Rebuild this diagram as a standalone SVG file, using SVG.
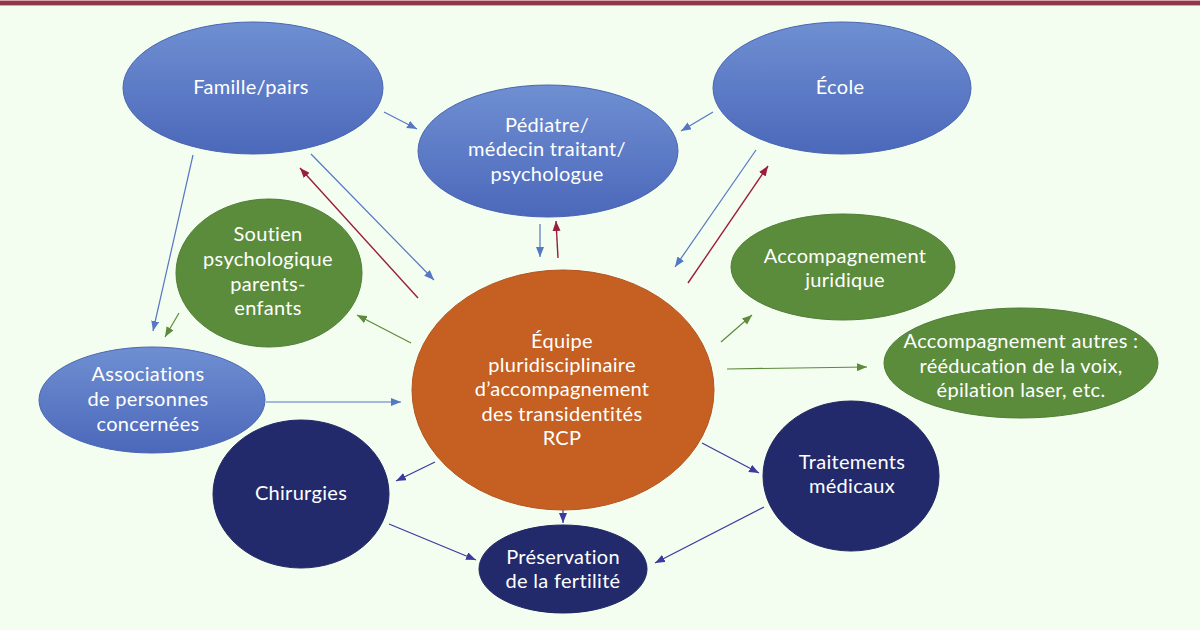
<svg xmlns="http://www.w3.org/2000/svg" width="1200" height="630" viewBox="0 0 1200 630">
<defs>
<linearGradient id="gBlue" x1="0" y1="0" x2="0" y2="1">
<stop offset="0" stop-color="#6f8fd2"/>
<stop offset="1" stop-color="#4b68ba"/>
</linearGradient>
<marker id="aBlue" viewBox="0 0 10 8" refX="10" refY="4" markerWidth="10" markerHeight="8" markerUnits="userSpaceOnUse" orient="auto"><path d="M0,0 L10,4 L0,8 Z" fill="#5577c4"/></marker>
<marker id="aRed" viewBox="0 0 10 8" refX="10" refY="4" markerWidth="10" markerHeight="8" markerUnits="userSpaceOnUse" orient="auto"><path d="M0,0 L10,4 L0,8 Z" fill="#9a1d3e"/></marker>
<marker id="aGreen" viewBox="0 0 10 8" refX="10" refY="4" markerWidth="10" markerHeight="8" markerUnits="userSpaceOnUse" orient="auto"><path d="M0,0 L10,4 L0,8 Z" fill="#5e8a3c"/></marker>
<marker id="aNavy" viewBox="0 0 10 8" refX="10" refY="4" markerWidth="10" markerHeight="8" markerUnits="userSpaceOnUse" orient="auto"><path d="M0,0 L10,4 L0,8 Z" fill="#3b3a9e"/></marker>
</defs>
<style>
.blue{fill:url(#gBlue);stroke:#4a66b3;stroke-width:1}
.green{fill:#5b8c3b;stroke:#4f7d35;stroke-width:1}
.orange{fill:#c55f22;stroke:#b35520;stroke-width:1}
.navy{fill:#222a6c;stroke:#1f2762;stroke-width:1}
text{font-family:Lato,"Open Sans",sans-serif;font-size:20px;fill:#ffffff;text-anchor:middle;letter-spacing:0.3px}
.cb{stroke:#5577c4;stroke-width:1.2;fill:none;marker-end:url(#aBlue)}
.cr{stroke:#9a1d3e;stroke-width:1.4;fill:none;marker-end:url(#aRed)}
.cg{stroke:#5e8a3c;stroke-width:1.2;fill:none;marker-end:url(#aGreen)}
.cn{stroke:#3b3a9e;stroke-width:1.2;fill:none;marker-end:url(#aNavy)}
</style>
<rect x="0" y="0" width="1200" height="630" fill="#f3fdf0"/>
<rect x="0" y="0" width="1200" height="6" fill="#d9a2ad"/>
<rect x="0" y="1" width="1200" height="4" fill="#8c3a4b"/>

<g id="connectors">
<line class="cb" x1="384" y1="112" x2="417" y2="129"/>
<line class="cb" x1="713" y1="112" x2="681" y2="131"/>
<line class="cb" x1="193" y1="155" x2="153" y2="331"/>
<line class="cb" x1="311" y1="154" x2="434" y2="280"/>
<line class="cr" x1="418" y1="298" x2="300" y2="168"/>
<line class="cb" x1="540" y1="224" x2="540" y2="257"/>
<line class="cr" x1="558" y1="258" x2="556" y2="221"/>
<line class="cb" x1="756" y1="150" x2="675" y2="267"/>
<line class="cr" x1="688" y1="283" x2="768" y2="166"/>
<line class="cg" x1="411" y1="343" x2="357" y2="315"/>
<line class="cg" x1="179" y1="313" x2="165" y2="337"/>
<line class="cb" x1="266" y1="402" x2="401" y2="402"/>
<line class="cg" x1="721" y1="342" x2="752" y2="315"/>
<line class="cg" x1="727" y1="369" x2="867" y2="367"/>
<line class="cn" x1="435" y1="462" x2="396" y2="481"/>
<line class="cn" x1="563" y1="509" x2="563" y2="523"/>
<line class="cn" x1="389" y1="524" x2="476" y2="560"/>
<line class="cn" x1="702" y1="443" x2="759" y2="473"/>
<line class="cn" x1="764" y1="507" x2="655" y2="563"/>
</g>

<g id="famille"><ellipse class="blue" cx="253" cy="88" rx="130" ry="66"/><text x="251" y="94">Famille/pairs</text></g>
<g id="ecole"><ellipse class="blue" cx="842" cy="88" rx="129" ry="66"/><text x="840" y="94">École</text></g>
<g id="pediatre"><ellipse class="blue" cx="548" cy="151" rx="130" ry="66"/>
<text x="547" y="132">Pédiatre/</text><text x="547" y="156">médecin traitant/</text><text x="547" y="181">psychologue</text></g>
<g id="soutien"><ellipse class="green" cx="269" cy="273" rx="93" ry="74"/>
<text x="268" y="241">Soutien</text><text x="268" y="266">psychologique</text><text x="268" y="291">parents-</text><text x="268" y="315">enfants</text></g>
<g id="associations"><ellipse class="blue" cx="152" cy="400" rx="113" ry="53"/>
<text x="148" y="381">Associations</text><text x="148" y="406">de personnes</text><text x="148" y="431">concernées</text></g>
<g id="equipe"><ellipse class="orange" cx="563" cy="390" rx="151" ry="120"/>
<text x="562" y="348">Équipe</text><text x="562" y="372">pluridisciplinaire</text><text x="562" y="396">d’accompagnement</text><text x="562" y="421">des transidentités</text><text x="562" y="445">RCP</text></g>
<g id="juridique"><ellipse class="green" cx="843" cy="267" rx="112" ry="53"/>
<text x="845" y="263">Accompagnement</text><text x="845" y="287">juridique</text></g>
<g id="autres"><ellipse class="green" cx="1021" cy="363" rx="137" ry="55"/>
<text x="1021" y="348">Accompagnement autres :</text><text x="1021" y="373">rééducation de la voix,</text><text x="1021" y="397">épilation laser, etc.</text></g>
<g id="chirurgies"><ellipse class="navy" cx="301" cy="494" rx="88" ry="74"/><text x="301" y="500">Chirurgies</text></g>
<g id="traitements"><ellipse class="navy" cx="851" cy="476" rx="88" ry="75"/>
<text x="852" y="469">Traitements</text><text x="852" y="493">médicaux</text></g>
<g id="preservation"><ellipse class="navy" cx="563" cy="569" rx="84" ry="44"/>
<text x="563" y="564">Préservation</text><text x="563" y="588">de la fertilité</text></g>
</svg>
